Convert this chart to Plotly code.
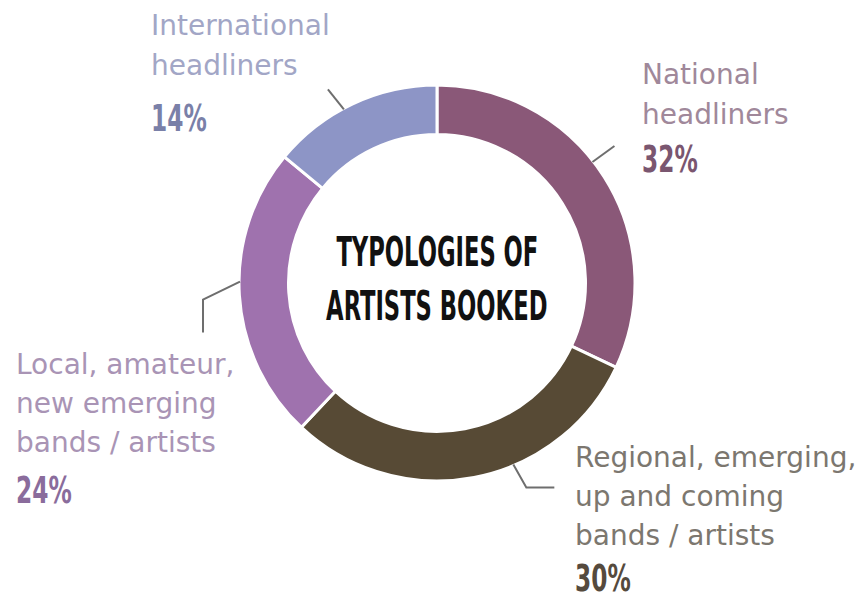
import json
import math
import plotly.graph_objects as go

# ---- data ----
categories = [
    "National headliners",
    "Regional, emerging, up and coming bands / artists",
    "Local, amateur, new emerging bands / artists",
    "International headliners",
]
label_lines = [
    ["National", "headliners"],
    ["Regional, emerging,", "up and coming", "bands / artists"],
    ["Local, amateur,", "new emerging", "bands / artists"],
    ["International", "headliners"],
]
shares = [32, 30, 24, 14]
title_lines = ["TYPOLOGIES OF", "ARTISTS BOOKED"]

# ---- styling ----
W, H = 867, 602
slice_colors = ["#8a5878", "#574a35", "#9f72ae", "#8d95c6"]
label_colors = ["#a0889a", "#7c776f", "#a994b5", "#a2a6c6"]
pct_colors = ["#7a5670", "#554a3d", "#8a6c9c", "#7a80a8"]
leader_color = "#6e6e6e"

CX, CY, R = 437, 283, 198          # ring centre and outer radius, px
HOLE = 0.75

TEXT_FONT = "DejaVu Sans"
BOLD_NARROW = "DejaVu Sans Condensed"
TITLE_SQUEEZE = 0.63               # horizontal compression of the bold headings
PCT_SQUEEZE = 0.70

# label placement: left x, line centre ys, percent centre y (px)
label_pos = [
    dict(x=640, lines=[75, 115], pct=160),
    dict(x=573, lines=[457, 496, 535], pct=None),
    dict(x=14, lines=[364, 403, 442], pct=490),
    dict(x=149, lines=[26, 66], pct=118),
]
# leader lines: angular nudge from slice middle, then elbow offsets (px)
leaders = [
    dict(dang=-5.5, path=[(22, -16)]),
    dict(dang=-12, path=[(13, 23), (41, 23)]),
    dict(dang=4, path=[(-37, 18), (-37, 51)]),
    dict(dang=-3, path=[(-16, -20)]),
]


def px(x):
    return x / W


def py(y):
    return 1 - y / H


fig = go.Figure(
    go.Pie(
        labels=categories,
        values=shares,
        sort=False,
        direction="clockwise",
        rotation=0,
        hole=HOLE,
        marker=dict(colors=slice_colors, line=dict(color="white", width=3)),
        textinfo="none",
        hoverinfo="label+percent",
        domain=dict(x=[px(CX - R), px(CX + R)], y=[py(CY + R), py(CY - R)]),
        showlegend=False,
    )
)

annotations = []
shapes = []
squeeze = []   # [text, factor, anchor] for the post-render narrowing

total = sum(shares)
cum = 0
for i, v in enumerate(shares):
    mid = (cum + v / 2) / total * 360
    cum += v
    ang = math.radians(mid + leaders[i]["dang"])
    x0 = CX + (R - 1) * math.sin(ang)
    y0 = CY - (R - 1) * math.cos(ang)
    pts = [(x0, y0)] + [(x0 + dx, y0 + dy) for dx, dy in leaders[i]["path"]]
    path = "M " + " L ".join(f"{px(x):.5f},{py(y):.5f}" for x, y in pts)
    shapes.append(dict(type="path", xref="paper", yref="paper", path=path,
                       line=dict(color=leader_color, width=2)))

    pos = label_pos[i]
    for text, yc in zip(label_lines[i], pos["lines"]):
        annotations.append(dict(
            text=text, x=px(pos["x"]), y=py(yc), xref="paper", yref="paper",
            xanchor="left", yanchor="middle", showarrow=False,
            font=dict(family=TEXT_FONT, size=28, color=label_colors[i])))
    pct = dict(
        text=f"{v}%", x=px(pos["x"]), xref="paper", yref="paper",
        xanchor="left", showarrow=False,
        font=dict(family=BOLD_NARROW, size=37, color=pct_colors[i], weight="bold"))
    if pos["pct"] is None:          # sits on the bottom edge of the page
        pct.update(y=0, yanchor="bottom")
    else:
        pct.update(y=py(pos["pct"]), yanchor="middle")
    annotations.append(pct)
    squeeze.append([f"{v}%", PCT_SQUEEZE, "left"])

for text, yc in zip(title_lines, [252, 306]):
    annotations.append(dict(
        text=text, x=px(CX), y=py(yc), xref="paper", yref="paper",
        xanchor="center", yanchor="middle", showarrow=False,
        font=dict(family=BOLD_NARROW, size=40, color="#111111", weight="bold")))
    squeeze.append([text, TITLE_SQUEEZE, "center"])

fig.update_layout(
    width=W, height=H, autosize=False,
    margin=dict(l=0, r=0, t=0, b=0),
    paper_bgcolor="white", plot_bgcolor="white",
    annotations=annotations, shapes=shapes,
)

# narrow the bold condensed headings horizontally around their anchor
post = """
var gd = document.getElementById('{plot_id}');
var rules = %s;
gd.querySelectorAll('g.annotation text.annotation-text').forEach(function (t) {
  rules.forEach(function (r) {
    if (t.textContent !== r[0]) return;
    var bb = t.getBBox();
    var ox = r[2] === 'left' ? bb.x : bb.x + bb.width / 2;
    var prev = t.getAttribute('transform') || '';
    t.setAttribute('transform', prev + ' translate(' + ox + ',0) scale(' + r[1] + ',1) translate(' + (-ox) + ',0)');
  });
});
""" % json.dumps(squeeze)

fig.write_html("out.html", post_script=post)
